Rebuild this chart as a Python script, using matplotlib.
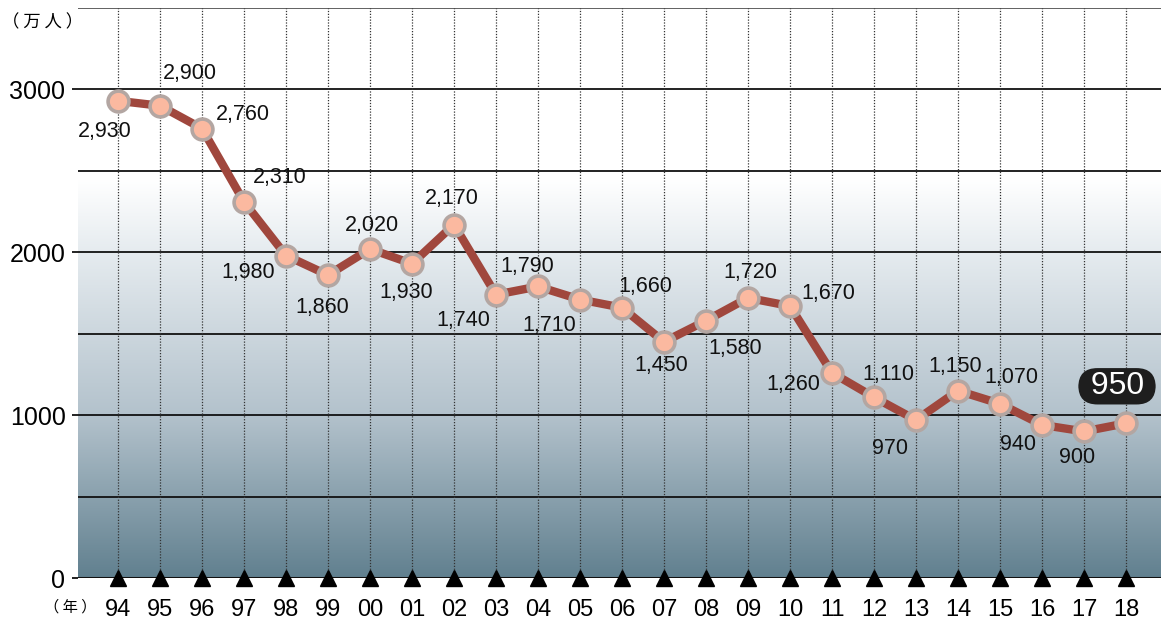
import numpy as np
import matplotlib
matplotlib.use("Agg")
import matplotlib.pyplot as plt
from matplotlib.colors import LinearSegmentedColormap

# data (万人)
YEARS = ["94", "95", "96", "97", "98", "99", "00", "01", "02", "03", "04", "05",
         "06", "07", "08", "09", "10", "11", "12", "13", "14", "15", "16", "17", "18"]
VALUES = [2930, 2900, 2760, 2310, 1980, 1860, 2020, 1930, 2170, 1740, 1790, 1710,
          1660, 1450, 1580, 1720, 1670, 1260, 1110, 970, 1150, 1070, 940, 900, 950]

# label offsets in pixels (dx, dy) from each point
LABEL_OFF = [(-13, -31), (30, 32), (41, 14), (36, 24), (-38, -17), (-6, -32),
             (2, 24), (-6, -29), (-2, 26), (-33, -26), (-11, 20), (-31, -26),
             (23, 21), (-3, -24), (29, -28), (2, 25), (38, 13), (-39, -12),
             (14, 23), (-26, -28), (-3, 24), (11, 26), (-24, -20), (-7, -26),
             (-9, 37)]

LINE_C = "#a0473d"
FILL_C = "#fbb9a0"
EDGE_C = "#b3a6a2"
NUM_FONT = ["Liberation Sans Narrow", "Liberation Sans", "DejaVu Sans"]
CJK_FONT = ["Noto Sans CJK JP", "DejaVu Sans"]

W, H = 1161, 621
fig = plt.figure(figsize=(W / 100, H / 100), dpi=100)
ax = fig.add_axes([78 / W, 43 / H, 1 - 78 / W, (578 - 8) / H])

x = np.arange(len(YEARS))
xlo, xhi = -40 / 42, (1161 - 118) / 42
ax.set_xlim(xlo, xhi)
ax.set_ylim(0, 3500)

# gradient background
cmap = LinearSegmentedColormap.from_list(
    "bg", [(0.0, "#61808f"), (1000 / 2450, "#b3c2cc"), (2000 / 2450, "#e5ebef"), (1.0, "#ffffff")])
grad = np.linspace(0, 1, 256).reshape(-1, 1)
ax.imshow(grad, extent=[xlo, xhi, 0, 2450], origin="lower", aspect="auto",
          cmap=cmap, zorder=0)

# grid
for v in range(500, 3501, 500):
    ax.axhline(v, color="#111111" if v < 3500 else "#555555", lw=1.3, zorder=1)
for xi in x:
    ax.axvline(xi, color="#333333", lw=0.9, ls=(0, (1.0, 1.3)), zorder=1)
ax.axhline(0, color="#111111", lw=2.2, zorder=2)

for s in ax.spines.values():
    s.set_visible(False)

ax.set_yticks([0, 1000, 2000, 3000])
ax.set_yticklabels(["0", "1000", "2000", "3000"], fontsize=18, family=NUM_FONT)
ax.tick_params(axis="y", length=4, width=1.3, color="#111111", pad=5)
ax.set_xticks(x)
ax.set_xticklabels(YEARS, fontsize=17, family=NUM_FONT)
ax.tick_params(axis="x", length=0, pad=15)

# triangles on baseline
ax.plot(x, np.zeros(len(x)), ls="none", marker="^", ms=12, color="black",
        clip_on=False, zorder=5)

# line + markers
ax.plot(x, VALUES, color=LINE_C, lw=6, zorder=3, solid_joinstyle="round")
ax.plot(x, VALUES, ls="none", marker="o", ms=15, mfc=FILL_C, mec=EDGE_C, mew=2.6, zorder=4)

for i, (v, (dx, dy)) in enumerate(zip(VALUES, LABEL_OFF)):
    if i == len(VALUES) - 1:
        ax.annotate(f" {v} ", (x[i], v), xytext=(dx, dy), textcoords="offset pixels",
                    ha="center", va="center", fontsize=23, color="white",
                    family=["Liberation Sans", "DejaVu Sans"], zorder=6,
                    bbox=dict(boxstyle="round,pad=0.1,rounding_size=0.6",
                              fc="#1e1e1e", ec="none"))
    else:
        ax.annotate(f"{v:,}", (x[i], v), xytext=(dx, dy), textcoords="offset pixels",
                    ha="center", va="center", fontsize=15.5, color="#111111",
                    family=NUM_FONT, zorder=6)

fig.text(43 / W, 1 - 22 / H, "（ 万 人 ）", ha="center", va="center", fontsize=12.5,
         family=CJK_FONT)
fig.text(70 / W, 1 - 607 / H, "（ 年 ）", ha="center", va="center", fontsize=11,
         family=CJK_FONT)

fig.savefig("out.png", dpi=100)
